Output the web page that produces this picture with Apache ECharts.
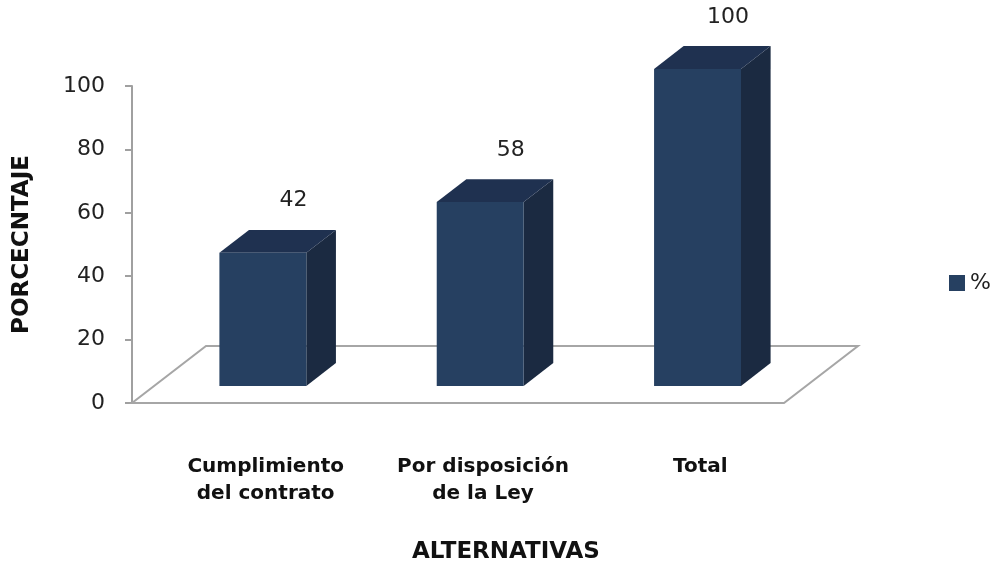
<!DOCTYPE html>
<html>
<head>
<meta charset="utf-8">
<script src="https://cdn.jsdelivr.net/npm/echarts@6/dist/echarts.min.js"></script>
<style>
  html, body { margin: 0; padding: 0; background: #fff; }
  #chart { width: 996px; height: 562px; }
</style>
</head>
<body>
<div id="chart"></div>
<script>
// Categories and percentages
const categories = ['Cumplimiento\ndel contrato', 'Por disposición\nde la Ley', 'Total'];
const percentages = [42, 58, 100];
const yTicks = [0, 20, 40, 60, 80, 100];
const seriesName = '%';

const FRONT = '#264061';
const TOP = '#1f3150';
const SIDE = '#1b2a41';
const FLOOR = '#a6a6a6';

// depth vector of the floor (pixels) and the bar placement inside it
const DEPTH = [74, -57];
const BAR_FRONT = 0.3;   // bar front plane, fraction of floor depth
const BAR_DEPTH = 0.4;   // bar depth, fraction of floor depth
const BAR_WIDTH = 0.4;   // front face width, fraction of band

const chart = echarts.init(document.getElementById('chart'));

function renderFloor(params, api) {
  const band = api.size([1, 0])[0];
  const p0 = api.coord([0, 0]);
  const left = p0[0] - band / 2;
  const right = left + band * categories.length;
  const y = p0[1];
  return {
    type: 'polygon',
    shape: { points: [
      [left, y], [right, y],
      [right + DEPTH[0], y + DEPTH[1]], [left + DEPTH[0], y + DEPTH[1]]
    ] },
    style: { fill: 'none', stroke: FLOOR, lineWidth: 2 },
    silent: true
  };
}

function renderBar(params, api) {
  const idx = api.value(0);
  const val = api.value(1);
  const band = api.size([1, 0])[0];
  const base = api.coord([idx, 0]);
  const topPt = api.coord([idx, val]);
  const w = band * BAR_WIDTH;
  const fx = DEPTH[0] * BAR_FRONT, fy = DEPTH[1] * BAR_FRONT;
  const dx = DEPTH[0] * BAR_DEPTH, dy = DEPTH[1] * BAR_DEPTH;
  const L = base[0] - w / 2 + fx;
  const R = L + w;
  const B = base[1] + fy;
  const T = topPt[1] + fy;
  return {
    type: 'group',
    children: [
      { type: 'polygon', shape: { points: [[R, B], [R, T], [R + dx, T + dy], [R + dx, B + dy]] },
        style: { fill: SIDE } },
      { type: 'polygon', shape: { points: [[L, T], [R, T], [R + dx, T + dy], [L + dx, T + dy]] },
        style: { fill: TOP } },
      { type: 'rect', shape: { x: L, y: T, width: w, height: B - T },
        style: { fill: FRONT } },
      { type: 'text', x: L + 74, y: T - 52,
        style: { text: String(val), align: 'center', verticalAlign: 'middle',
          fontFamily: 'DejaVu Sans', fontSize: 22, fill: '#222' } }
    ]
  };
}

chart.setOption({
  animation: false,
  backgroundColor: '#fff',
  grid: { left: 132, top: 86, right: 212, bottom: 159 },
  title: {
    text: 'ALTERNATIVAS', left: 501, top: 536, textAlign: 'center',
    textStyle: { fontFamily: 'DejaVu Sans', fontWeight: 'bold', fontSize: 23, color: '#111' }
  },
  legend: {
    data: [{ name: seriesName, icon: 'rect' }],
    left: 944, top: 267, itemWidth: 16, itemHeight: 16, itemGap: 8,
    textStyle: { fontFamily: 'DejaVu Sans', fontSize: 22, color: '#222' }
  },
  xAxis: {
    type: 'category',
    data: categories,
    axisLine: { show: false },
    axisTick: { show: false },
    axisLabel: {
      margin: 50, interval: 0, padding: [0, 0, 0, 50],
      fontFamily: 'DejaVu Sans', fontWeight: 'bold', fontSize: 20, lineHeight: 27, color: '#111'
    }
  },
  yAxis: {
    type: 'value', min: yTicks[0], max: yTicks[yTicks.length - 1], interval: yTicks[1] - yTicks[0],
    name: 'PORCECNTAJE', nameLocation: 'middle', nameRotate: 90, nameGap: 98,
    nameTextStyle: { fontFamily: 'DejaVu Sans', fontWeight: 'bold', fontSize: 23, color: '#111' },
    axisLine: { show: true, lineStyle: { color: '#a0a0a0', width: 2 } },
    axisTick: { show: true, length: 7, lineStyle: { color: '#a0a0a0', width: 2 } },
    axisLabel: { margin: 27, fontFamily: 'DejaVu Sans', fontSize: 22, color: '#222' },
    splitLine: { show: false }
  },
  series: [
    { type: 'custom', name: 'floor', renderItem: renderFloor, data: [[0]], z: 1, silent: true },
    { type: 'custom', name: seriesName, renderItem: renderBar, z: 2,
      itemStyle: { color: FRONT },
      encode: { x: 0, y: 1 },
      data: percentages.map((v, i) => [i, v]) }
  ]
});
</script>
</body>
</html>
